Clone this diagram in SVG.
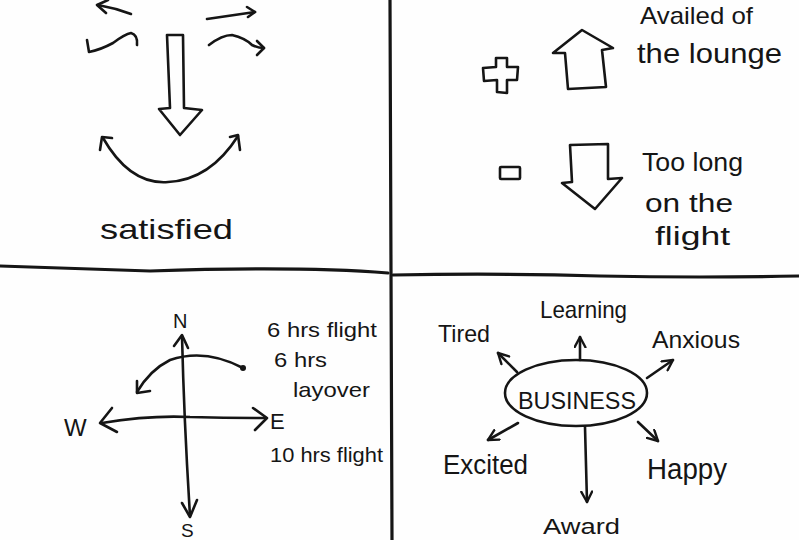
<svg xmlns="http://www.w3.org/2000/svg" width="799" height="540" viewBox="0 0 799 540">
<style>
.ink{fill:none;stroke:#151515;stroke-width:2.6;stroke-linecap:round;stroke-linejoin:round}
.div{fill:none;stroke:#151515;stroke-width:3.2;stroke-linecap:round}
text{font-family:"Liberation Sans","Open Sans",sans-serif;fill:#151515}
.t{font-size:24px}
.tl{font-size:28px}
.tm{font-size:25px}
</style>
<defs>
<marker id="arr" viewBox="0 0 12 12" refX="10.5" refY="6" markerWidth="13" markerHeight="13" markerUnits="userSpaceOnUse" orient="auto">
<path d="M1,1 L10.5,6 L1,11" fill="none" stroke="#151515" stroke-width="2.2" stroke-linecap="round" stroke-linejoin="round"/>
</marker>
</defs>
<rect width="799" height="540" fill="#fefefe"/>

<g id="dividers">
<path class="div" d="M0,266 Q80,269 150,271 Q300,266 388,273"/>
<path class="div" d="M393,275 Q500,273 600,276 Q700,278 799,276"/>
<path class="div" d="M390,0 L391,270 L392,540"/>
</g>

<g id="satisfied-face">
<path class="ink" d="M131,14 Q115,8 98,5"/>
<path class="ink" d="M108,0 L97,5 L106,13"/>
<path class="ink" d="M207,19 L255,12"/>
<path class="ink" d="M247,7 L255,12 L248,17"/>
<path class="ink" d="M87,40 L89,52 Q100,50 113,43 Q125,34 131,33 Q138,35 137,45"/>
<path class="ink" d="M209,45 Q222,35 232,35 Q245,38 252,45 Q258,48 264,48"/>
<path class="ink" d="M257,41 L264,48 L257,55"/>
<path class="ink" d="M167,35 L183,35 L184,108 L202,110 L180,135 L159,109 L170,108 Z"/>
<path class="ink" d="M103,138 Q130,185 168,182 Q210,180 238,136"/>
<path class="ink" d="M112,138 L102,137 L100,150"/>
<path class="ink" d="M230,137 L238,135 L240,150"/>
<text class="tl" x="100" y="239" font-size="30" textLength="133" lengthAdjust="spacingAndGlyphs">satisfied</text>
</g>

<g id="plus-minus">
<text x="640" y="24" font-size="24" textLength="113" lengthAdjust="spacingAndGlyphs">Availed of</text>
<text class="tl" x="637" y="63" textLength="145" lengthAdjust="spacingAndGlyphs">the lounge</text>
<path class="ink" d="M496,58 L507,58 L507,67 L518,67 L517,80 L507,80 L507,93 L497,92 L497,80 L484,81 L483,68 L496,67 Z"/>
<path class="ink" d="M582,30 L613,48 L602,50 L606,87 L568,89 L565,53 L553,53 Z"/>
<rect class="ink" x="500" y="167" width="20" height="12" rx="1"/>
<path class="ink" d="M570,145 L608,144 L608,179 L622,178 L595,209 L562,183 L572,182 Z"/>
<text class="tm" x="642" y="171" textLength="101" lengthAdjust="spacingAndGlyphs">Too long</text>
<text class="tm" x="645" y="212" textLength="88" lengthAdjust="spacingAndGlyphs">on the</text>
<text class="tm" x="655" y="245" textLength="75" lengthAdjust="spacingAndGlyphs">flight</text>
</g>

<g id="compass">
<path class="ink" d="M182,336 Q184,420 190,516"/>
<path class="ink" d="M174,346 L182,335 L188,348"/>
<path class="ink" d="M182,503 L190,517 L197,500"/>
<path class="ink" d="M102,423 Q150,415 190,417 Q230,418 266,418"/>
<path class="ink" d="M112,408 L100,423 L117,432"/>
<path class="ink" d="M253,408 L267,418 L255,430"/>
<path class="ink" d="M243,368 Q205,348 170,360 Q150,370 137,392"/>
<circle cx="243" cy="368" r="3" fill="#151515"/>
<path class="ink" d="M137,381 L137,393 L150,391"/>
<text x="173" y="328" font-size="20">N</text>
<text x="181" y="537" font-size="19">S</text>
<text x="64" y="436" font-size="24">W</text>
<text x="270" y="429" font-size="22">E</text>
<text x="267" y="337" font-size="21" textLength="110" lengthAdjust="spacingAndGlyphs">6 hrs flight</text>
<text x="274" y="367" font-size="21" textLength="53" lengthAdjust="spacingAndGlyphs">6 hrs</text>
<text x="293" y="397" font-size="21" textLength="77" lengthAdjust="spacingAndGlyphs">layover</text>
<text x="270" y="462" font-size="21" textLength="113" lengthAdjust="spacingAndGlyphs">10 hrs flight</text>
</g>

<g id="business">
<ellipse class="ink" cx="576" cy="393" rx="71" ry="33"/>
<text x="518" y="409" font-size="24" textLength="118" lengthAdjust="spacingAndGlyphs">BUSINESS</text>
</g>
<g id="tired"><text class="t" x="438" y="342" textLength="52" lengthAdjust="spacingAndGlyphs">Tired</text></g>
<g id="learning"><text class="t" x="540" y="318" textLength="87" lengthAdjust="spacingAndGlyphs">Learning</text></g>
<g id="anxious"><text class="t" x="652" y="348" textLength="88" lengthAdjust="spacingAndGlyphs">Anxious</text></g>
<g id="excited"><text x="443" y="474" font-size="27" textLength="85" lengthAdjust="spacingAndGlyphs">Excited</text></g>
<g id="happy"><text x="647" y="479" font-size="29" textLength="80" lengthAdjust="spacingAndGlyphs">Happy</text></g>
<g id="award"><text x="543" y="534" font-size="22" textLength="77" lengthAdjust="spacingAndGlyphs">Award</text></g>

<g id="connectors">
<path class="ink" d="M517,372 L498,353" marker-end="url(#arr)"/>
<path class="ink" d="M580,360 L580,337" marker-end="url(#arr)"/>
<path class="ink" d="M647,378 L673,360" marker-end="url(#arr)"/>
<path class="ink" d="M638,422 L658,441" marker-end="url(#arr)"/>
<path class="ink" d="M518,423 L488,440" marker-end="url(#arr)"/>
<path class="ink" d="M585,427 L587,502" marker-end="url(#arr)"/>
</g>
</svg>
